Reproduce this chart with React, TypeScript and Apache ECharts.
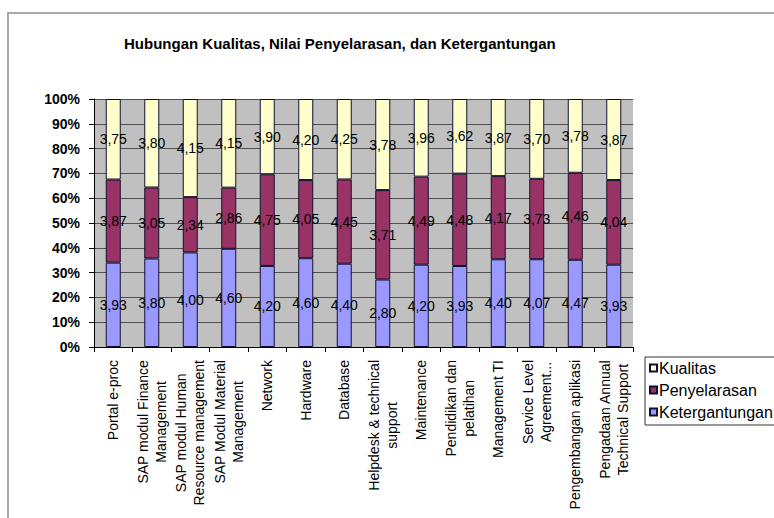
import React, { useEffect, useRef } from "react";
import * as echarts from "echarts";

const categories = [
  "Portal e-proc",
  "SAP modul Finance\nManagement",
  "SAP modul Human\nResource management",
  "SAP Modul Material\nManagement",
  "Network",
  "Hardware",
  "Database",
  "Helpdesk & technical\nsupport",
  "Maintenance",
  "Pendidikan dan\npelatihan",
  "Management TI",
  "Service Level\nAgreement...",
  "Pengembangan aplikasi",
  "Pengadaan Annual\nTechnical Support",
];

const ketergantungan = [3.93, 3.8, 4.0, 4.6, 4.2, 4.6, 4.4, 2.8, 4.2, 3.93, 4.4, 4.07, 4.47, 3.93];
const penyelarasan = [3.87, 3.05, 2.34, 2.86, 4.75, 4.05, 4.45, 3.71, 4.49, 4.48, 4.17, 3.73, 4.46, 4.04];
const kualitas = [3.75, 3.8, 4.15, 4.15, 3.9, 4.2, 4.25, 3.78, 3.96, 3.62, 3.87, 3.7, 3.78, 3.87];

const FONT = "'Liberation Sans', Arial, sans-serif";

export default function App() {
  const ref = useRef<HTMLDivElement>(null);
  useEffect(() => {
    if (!ref.current) return;
    const chart = echarts.init(ref.current, undefined, { renderer: "svg" });
    const totals = categories.map((_, i) => ketergantungan[i] + penyelarasan[i] + kualitas[i]);
    const mk = (name: string, raw: number[], color: string) => ({
      name,
      type: "bar",
      stack: "total",
      barWidth: 15,
      data: raw.map((v, i) => ({ value: (v / totals[i]) * 100, raw: v })),
      itemStyle: { color, borderColor: "#101030", borderWidth: 1 },
      label: {
        show: true,
        position: "inside",
        color: "#000",
        fontSize: 14,
        fontFamily: FONT,
        formatter: (p: any) => p.data.raw.toFixed(2).replace(".", ","),
      },
    });
    chart.setOption({
      animation: false,
      backgroundColor: "#fff",
      textStyle: { fontFamily: FONT },
      title: {
        text: "Hubungan Kualitas, Nilai Penyelarasan, dan Ketergantungan",
        left: 119,
        top: 31,
        textStyle: { fontSize: 15, fontWeight: "bold", color: "#000", fontFamily: FONT },
      },
      graphic: [
        {
          type: "rect",
          shape: { x: 8, y: 13, width: 900, height: 700 },
          style: { fill: "none", stroke: "#a8a8a8", lineWidth: 2 },
          silent: true,
          z: -1,
        },
      ],
      legend: {
        orient: "vertical",
        left: 645,
        top: 357,
        data: ["Kualitas", "Penyelarasan", "Ketergantungan"],
        icon: "rect",
        itemWidth: 7,
        itemHeight: 7,
        itemGap: 6,
        padding: [3, 6, 5, 4],
        borderColor: "#333",
        borderWidth: 1,
        backgroundColor: "#fff",
        textStyle: { fontSize: 16, color: "#000", fontFamily: FONT, padding: [0, 0, 0, -3] },
      },
      grid: { left: 94, top: 99, width: 539, height: 248, backgroundColor: "#c0c0c0", show: true, borderWidth: 0 },
      xAxis: {
        type: "category",
        data: categories,
        axisLine: { show: true, lineStyle: { color: "#000", width: 1 } },
        axisTick: { show: true, length: 5, lineStyle: { color: "#000" } },
        axisLabel: {
          rotate: 90,
          margin: 13,
          interval: 0,
          color: "#000",
          fontSize: 14,
          fontFamily: FONT,
          formatter: (v: string) => v.split("\n").map((s) => "{c|" + s + "}").join("\n"),
          rich: { c: { align: "center", fontSize: 14, fontFamily: FONT, color: "#000", lineHeight: 18 } },
        },
      },
      yAxis: {
        type: "value",
        min: 0,
        max: 100,
        interval: 10,
        axisLine: { show: true, lineStyle: { color: "#000", width: 1 } },
        axisTick: { show: true, length: 5, lineStyle: { color: "#000" } },
        axisLabel: {
          formatter: "{value}%",
          color: "#000",
          fontSize: 14,
          fontWeight: "bold",
          fontFamily: FONT,
          margin: 14,
        },
        splitLine: { show: true, lineStyle: { color: "#505050", width: 1 } },
      },
      series: [
        mk("Ketergantungan", ketergantungan, "#9999ff"),
        mk("Penyelarasan", penyelarasan, "#993366"),
        mk("Kualitas", kualitas, "#ffffcc"),
      ],
    });
    return () => chart.dispose();
  }, []);
  return <div ref={ref} style={{ position: "fixed", left: 0, top: 0, width: 774, height: 518 }} />;
}
